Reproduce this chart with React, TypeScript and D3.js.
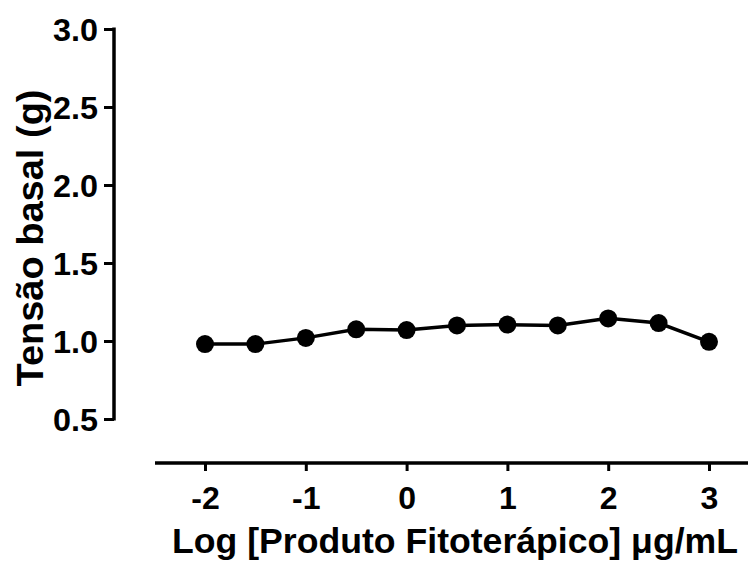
import React, { useEffect, useRef } from 'react';
import * as d3 from 'd3';

// log concentration (µg/mL) vs basal tension (g)
const logDoses = [-2, -1.5, -1, -0.5, 0, 0.5, 1, 1.5, 2, 2.5, 3];
const tension = [0.98, 0.98, 1.02, 1.075, 1.07, 1.1, 1.105, 1.1, 1.145, 1.115, 0.995];
const xTicks = [-2, -1, 0, 1, 2, 3];
const yTicks = [0.5, 1.0, 1.5, 2.0, 2.5, 3.0];

const W = 748;
const H = 568;
const FONT = '"Liberation Sans", Arial, sans-serif';

const App: React.FC = () => {
  const svgRef = useRef<SVGSVGElement>(null);

  useEffect(() => {
    if (!svgRef.current) return;
    const svg = d3.select(svgRef.current);
    svg.selectAll('*').remove();

    const x = d3.scaleLinear().domain([-2, 3]).range([205, 709]);
    const y = d3.scaleLinear().domain([0.5, 3.0]).range([419, 29]);

    // y axis
    const yAxis = svg.append('g')
      .attr('transform', 'translate(114,0)')
      .call(d3.axisLeft(y).tickValues(yTicks).tickFormat(d3.format('.1f')).tickSize(10).tickSizeOuter(0));
    yAxis.select('.domain').attr('stroke', '#000').attr('stroke-width', 3.5)
      .attr('d', `M0,${y(0.5) + 1.5}V${y(3.0) - 1.5}`);
    yAxis.selectAll('.tick line').attr('stroke', '#000').attr('stroke-width', 3);
    yAxis.selectAll('.tick text')
      .attr('font-family', FONT).attr('font-weight', 'bold').attr('font-size', 32)
      .attr('fill', '#000').attr('x', -16).attr('dy', '0.36em')
      .attr('textLength', 45).attr('lengthAdjust', 'spacingAndGlyphs');

    // x axis
    const xAxis = svg.append('g')
      .attr('transform', 'translate(0,463)')
      .call(d3.axisBottom(x).tickValues(xTicks).tickFormat(d => String(d)).tickSize(8).tickSizeOuter(0));
    xAxis.select('.domain').attr('stroke', '#000').attr('stroke-width', 3.5)
      .attr('d', 'M155,0H748');
    xAxis.selectAll('.tick line').attr('stroke', '#000').attr('stroke-width', 3);
    xAxis.selectAll('.tick text')
      .attr('font-family', FONT).attr('font-weight', 'bold').attr('font-size', 32)
      .attr('fill', '#000').attr('y', 46).attr('dy', 0);

    // line + markers
    const pts = logDoses.map((d, i) => [d, tension[i]] as [number, number]);
    const line = d3.line<[number, number]>().x(d => x(d[0])).y(d => y(d[1]));
    svg.append('path').datum(pts)
      .attr('d', line).attr('fill', 'none').attr('stroke', '#000').attr('stroke-width', 3.5);
    svg.append('g').selectAll('circle').data(pts).enter().append('circle')
      .attr('cx', d => x(d[0])).attr('cy', d => y(d[1])).attr('r', 9).attr('fill', '#000');

    // titles
    svg.append('text')
      .attr('x', 455).attr('y', 553)
      .attr('text-anchor', 'middle')
      .attr('font-family', FONT).attr('font-weight', 'bold').attr('font-size', 35)
      .attr('textLength', 566).attr('lengthAdjust', 'spacingAndGlyphs')
      .text('Log [Produto Fitoterápico] μg/mL');
    svg.append('text')
      .attr('transform', 'translate(43,238) rotate(-90)')
      .attr('text-anchor', 'middle')
      .attr('font-family', FONT).attr('font-weight', 'bold').attr('font-size', 36)
      .attr('textLength', 297).attr('lengthAdjust', 'spacingAndGlyphs')
      .text('Tensão basal (g)');
  }, []);

  return (
    <svg
      ref={svgRef}
      width={W}
      height={H}
      style={{ position: 'absolute', left: 0, top: 0, background: '#fff' }}
    />
  );
};

export default App;
